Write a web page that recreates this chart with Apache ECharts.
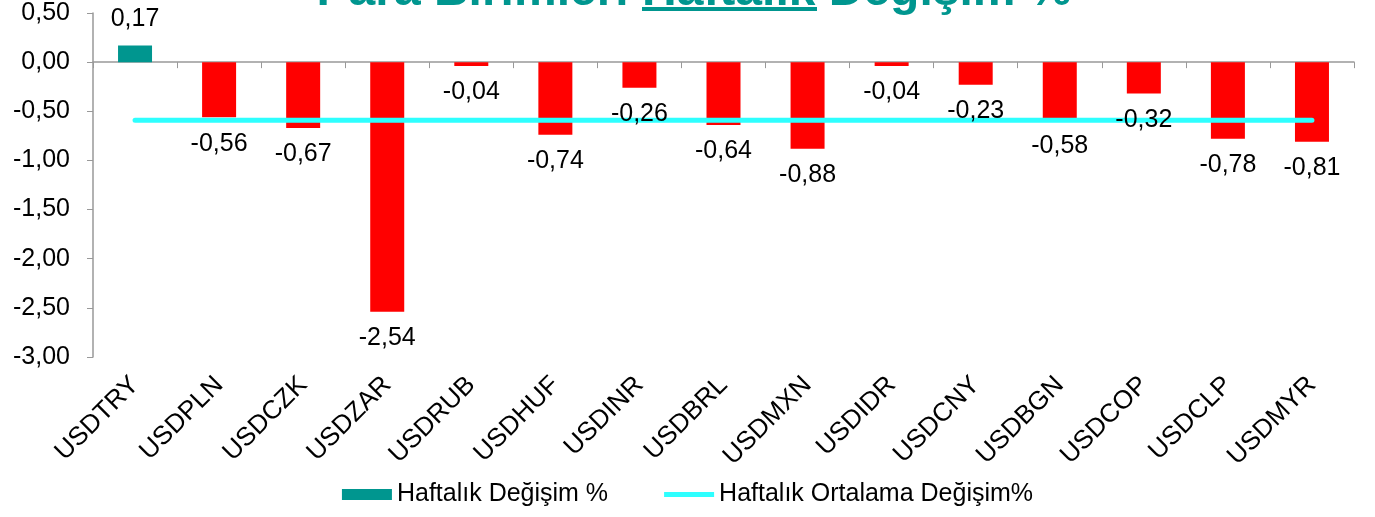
<!DOCTYPE html>
<html>
<head>
<meta charset="utf-8">
<title>Para Birimleri Haftalık Değişim %</title>
<script src="https://cdn.jsdelivr.net/npm/echarts@6/dist/echarts.min.js"></script>
<style>
  html, body { margin: 0; padding: 0; background: #fff; }
  #chart { width: 1375px; height: 517px; }
</style>
</head>
<body>
<div id="chart"></div>
<script>
// kurlar
var categories = ['USDTRY', 'USDPLN', 'USDCZK', 'USDZAR', 'USDRUB', 'USDHUF', 'USDINR', 'USDBRL',
  'USDMXN', 'USDIDR', 'USDCNY', 'USDBGN', 'USDCOP', 'USDCLP', 'USDMYR']
// haftalık değişim %
var weeklyChange = [0.17, -0.56, -0.67, -2.54, -0.04, -0.74, -0.26, -0.64, -0.88, -0.04, -0.23, -0.58, -0.32, -0.78, -0.81]
// haftalık ortalama değişim %
var weeklyAverage = [-0.59, -0.59, -0.59, -0.59, -0.59, -0.59, -0.59, -0.59, -0.59, -0.59, -0.59, -0.59, -0.59, -0.59, -0.59]
var seriesNames = ['Haftalık Değişim %', 'Haftalık Ortalama Değişim%']

var teal = '#00968F'
var red = '#FF0000'
var cyan = '#2EFFFF'
var font = 'Liberation Sans, Arial, sans-serif'

function fmt(v) {
  return v.toFixed(2).replace('.', ',')
}

var chart = echarts.init(document.getElementById('chart'))

var barData = weeklyChange.map(function (v) {
  return {
    value: v,
    itemStyle: { color: v >= 0 ? teal : red }
  }
})

// etiketler çizginin üstünde kalsın diye ayrı, şeffaf bir seri
var labelData = weeklyChange.map(function (v) {
  return {
    value: v,
    label: { position: v >= 0 ? 'top' : 'bottom' }
  }
})

var option = {
  animation: false,
  textStyle: { fontFamily: font },
  graphic: [
    {
      type: 'text',
      x: 694,
      y: -8,
      style: {
        text: 'Para Birimleri Haftalık Değişim %',
        font: 'bold 48px ' + font,
        fill: teal,
        align: 'center',
        verticalAlign: 'middle'
      }
    },
    {
      type: 'rect',
      shape: { x: 642, y: 7, width: 175, height: 4 },
      style: { fill: teal }
    }
  ],
  legend: {
    bottom: 5,
    left: 'center',
    itemGap: 56,
    itemWidth: 50,
    itemHeight: 11,
    textStyle: { fontSize: 25, color: '#000', fontFamily: font },
    data: [
      { name: seriesNames[0], icon: 'rect' },
      { name: seriesNames[1], icon: 'path://M0,0 L50,0 L50,5 L0,5 Z', itemStyle: { color: cyan } }
    ]
  },
  grid: { left: 93, right: 21, top: 13, bottom: 160 },
  xAxis: [
    {
      type: 'category',
      data: categories,
      axisLine: { onZero: true, lineStyle: { color: '#999', width: 1.5 } },
      axisTick: { show: true, length: 6, lineStyle: { color: '#999' } },
      axisLabel: { show: false }
    },
    {
      type: 'category',
      data: categories,
      position: 'bottom',
      axisLine: { show: false, onZero: false },
      axisTick: { show: false },
      axisLabel: {
        rotate: 45,
        margin: 24,
        fontSize: 26,
        color: '#000',
        fontFamily: font
      }
    }
  ],
  yAxis: {
    type: 'value',
    min: -3,
    max: 0.5,
    interval: 0.5,
    axisLine: { show: true, lineStyle: { color: '#999', width: 1.5 } },
    axisTick: { show: true, length: 6, lineStyle: { color: '#999' } },
    splitLine: { show: false },
    axisLabel: {
      margin: 23,
      fontSize: 25,
      color: '#000',
      fontFamily: font,
      formatter: function (v) { return fmt(v) }
    }
  },
  series: [
    {
      name: seriesNames[0],
      type: 'bar',
      xAxisIndex: 0,
      barWidth: 34,
      z: 2,
      itemStyle: { color: teal },
      data: barData
    },
    {
      name: seriesNames[1],
      type: 'line',
      xAxisIndex: 0,
      symbol: 'none',
      z: 3,
      itemStyle: { color: cyan },
      lineStyle: { color: cyan, width: 5, cap: 'round' },
      data: weeklyAverage
    },
    {
      name: 'etiket',
      type: 'bar',
      xAxisIndex: 0,
      barWidth: 34,
      barGap: '-100%',
      z: 4,
      silent: true,
      itemStyle: { color: 'transparent' },
      label: {
        show: true,
        distance: 14,
        fontSize: 25,
        color: '#000',
        fontFamily: font,
        formatter: function (p) { return fmt(p.value) }
      },
      data: labelData
    }
  ]
}

chart.setOption(option)
</script>
</body>
</html>
